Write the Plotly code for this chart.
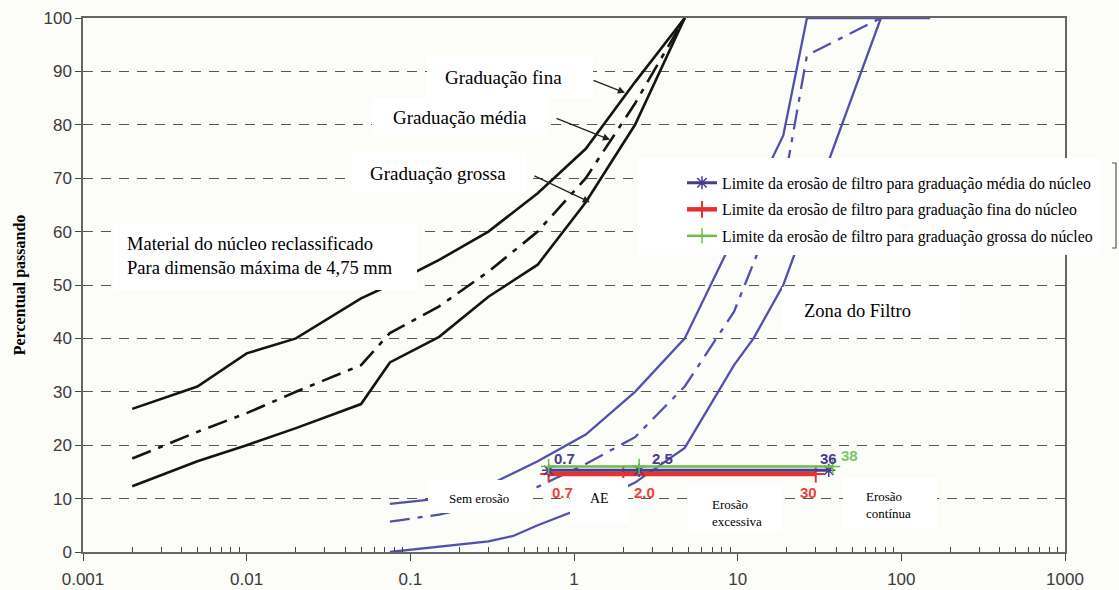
import numpy as np
import plotly.graph_objects as go

# ---------------- data ----------------
core_sizes = [0.002, 0.005, 0.01, 0.02, 0.05, 0.075, 0.15, 0.3, 0.6, 1.18, 2.36, 4.75]
core_fina = [26.8, 31.0, 37.2, 40.0, 47.5, 50.0, 54.7, 60.0, 67.2, 75.5, 88.0, 100.0]
core_media = [17.5, 22.5, 26.0, 30.0, 35.0, 41.0, 46.0, 52.5, 60.0, 70.0, 84.0, 100.0]
core_grossa = [12.3, 17.0, 20.0, 23.2, 27.7, 35.5, 40.3, 47.8, 53.8, 65.5, 80.0, 100.0]

filt_fina_sizes = [0.075, 0.15, 0.3, 0.6, 1.18, 2.36, 4.75, 9.5, 19.0, 26.5, 150.0]
filt_fina = [9.0, 10.0, 12.5, 17.0, 22.0, 30.0, 40.0, 59.0, 78.0, 100.0, 100.0]
filt_media_sizes = [0.075, 0.15, 0.3, 0.6, 1.18, 2.36, 4.75, 9.5, 19.0, 26.5, 75.0]
filt_media = [5.7, 7.0, 9.0, 12.2, 16.5, 21.5, 31.0, 45.0, 68.0, 93.0, 100.0]
filt_grossa_sizes = [0.075, 0.15, 0.3, 0.425, 0.6, 1.18, 2.36, 4.75, 9.5, 12.5, 19.0, 75.0]
filt_grossa = [0.0, 1.0, 2.0, 3.0, 5.0, 8.5, 13.0, 19.5, 35.0, 40.0, 50.0, 100.0]

lim_media_d = [0.7, 2.5, 36]
lim_fina_d = [0.7, 2.0, 30]
lim_grossa_d = [0.7, 2.5, 38]
lim_media_p = 15.3
lim_fina_p = 14.6
lim_grossa_p = 16.0

lim_media_labels = ["0.7", "2.5", "36"]
lim_fina_labels = ["0.7", "2.0", "30"]
lim_grossa_labels = ["", "", "38"]

x_tick_vals = [0.001, 0.01, 0.1, 1, 10, 100, 1000]
x_tick_text = ["0.001", "0.01", "0.1", "1", "10", "100", "1000"]
y_tick_vals = list(range(0, 101, 10))

legend_names = [
    "Limite da erosão de filtro para graduação média do núcleo",
    "Limite da erosão de filtro para graduação fina do núcleo",
    "Limite da erosão de filtro para graduação grossa do núcleo",
]

# ---------------- layout helpers ----------------
W, H = 1119, 590
ML, MR, MT, MB = 83, 54, 18, 38
PW, PH = W - ML - MR, H - MT - MB


def pxx(x):
    return (x - ML) / PW


def pxy(y):
    return (H - MB - y) / PH


BLACK = "#141414"
BLUE = "#5250ad"
PURPLE = "#4a3b8e"
RED = "#e5322d"
GREEN = "#68be4a"
SERIF = "Liberation Serif"
SANS = "Liberation Sans"

fig = go.Figure()

# core material curves
fig.add_trace(go.Scatter(x=core_sizes, y=core_fina, mode="lines", showlegend=False,
                         line=dict(color=BLACK, width=2.6), cliponaxis=False))
fig.add_trace(go.Scatter(x=core_sizes, y=core_media, mode="lines", showlegend=False,
                         line=dict(color=BLACK, width=2.6, dash="20px,8px,5px,8px"), cliponaxis=False))
fig.add_trace(go.Scatter(x=core_sizes, y=core_grossa, mode="lines", showlegend=False,
                         line=dict(color=BLACK, width=2.6), cliponaxis=False))

# filter zone curves
fig.add_trace(go.Scatter(x=filt_fina_sizes, y=filt_fina, mode="lines", showlegend=False,
                         line=dict(color=BLUE, width=2.3), cliponaxis=False))
fig.add_trace(go.Scatter(x=filt_media_sizes, y=filt_media, mode="lines", showlegend=False,
                         line=dict(color=BLUE, width=2.3, dash="20px,8px,5px,8px"), cliponaxis=False))
fig.add_trace(go.Scatter(x=filt_grossa_sizes, y=filt_grossa, mode="lines", showlegend=False,
                         line=dict(color=BLUE, width=2.3), cliponaxis=False))

# erosion limit lines
fig.add_trace(go.Scatter(x=lim_fina_d, y=[lim_fina_p] * len(lim_fina_d), mode="lines+markers",
                         name=legend_names[1], legendrank=2, legendgroup="fina",
                         line=dict(color=RED, width=4.5),
                         marker=dict(symbol="cross-thin-open", size=12, color=RED,
                                     line=dict(color=RED, width=2))))
fig.add_trace(go.Scatter(x=lim_media_d, y=[lim_media_p] * len(lim_media_d), mode="lines+markers",
                         name=legend_names[0], legendrank=1, legendgroup="media",
                         line=dict(color=PURPLE, width=3),
                         marker=dict(symbol="asterisk-open", size=11, color=PURPLE,
                                     line=dict(color=PURPLE, width=1.5))))
fig.add_trace(go.Scatter(x=lim_grossa_d, y=[lim_grossa_p] * len(lim_grossa_d), mode="lines+markers",
                         name=legend_names[2], legendrank=3, legendgroup="grossa",
                         line=dict(color=GREEN, width=2.5),
                         marker=dict(symbol="cross-thin-open", size=11, color=GREEN,
                                     line=dict(color=GREEN, width=1.5))))

# white label boxes (pixel boxes converted to paper coords)
boxes = [
    (427, 55, 593, 98),     # Graduação fina
    (372, 98, 548, 135),    # Graduação média
    (352, 152, 527, 193),   # Graduação grossa
    (113, 223, 417, 290),   # Material do núcleo
    (638, 158, 1100, 255),  # legend
    (782, 287, 960, 333),   # Zona do Filtro
    (428, 480, 530, 513),   # Sem erosão
    (570, 478, 628, 523),   # AE
    (688, 485, 782, 532),   # Erosão excessiva
    (843, 478, 937, 528),   # Erosão contínua
]
shapes = []
for (x0, y0, x1, y1) in boxes:
    shapes.append(dict(type="rect", xref="paper", yref="paper", layer="above",
                       x0=pxx(x0), x1=pxx(x1), y0=pxy(y1), y1=pxy(y0),
                       fillcolor="white", line=dict(width=0)))
# bracket at right of legend
shapes.append(dict(type="path", xref="paper", yref="paper", layer="above",
                   path="M %f,%f L %f,%f L %f,%f L %f,%f" % (pxx(1112), pxy(163), pxx(1116), pxy(163),
                                                             pxx(1116), pxy(248), pxx(1112), pxy(248)),
                   line=dict(color="#555", width=1.2)))

annotations = []


def txt(text, x, y, size, xanchor="center", font=SERIF, color="black", align="center"):
    annotations.append(dict(text=text, xref="paper", yref="paper", x=pxx(x), y=pxy(y),
                            xanchor=xanchor, yanchor="middle", showarrow=False, align=align,
                            font=dict(family=font, size=size, color=color)))


txt("Graduação fina", 503, 77, 19)
txt("Graduação média", 460, 117, 19)
txt("Graduação grossa", 438, 173, 19)
txt("Material do núcleo reclassificado<br>Para dimensão máxima de 4,75 mm", 125, 256, 18.5,
    xanchor="left", align="left")
txt("Zona do Filtro", 857, 311, 18.5)
txt("Sem erosão", 479, 498, 13)
txt("AE", 599, 498, 14)
txt("Erosão<br>excessiva", 710, 513, 13, xanchor="left", align="left")
txt("Erosão<br>contínua", 864, 505, 13, xanchor="left", align="left")

# arrows pointing at core curves (x in log10 for log axis)
arrows = [
    (np.log10(2.05), 86.0, -33, -13),
    (np.log10(1.66), 77.2, -55, -22),
    (np.log10(1.25), 65.5, -57, -27),
]
for (ax_, ay_, dx, dy) in arrows:
    annotations.append(dict(x=ax_, y=ay_, xref="x", yref="y", ax=dx, ay=dy, text="",
                            showarrow=True, arrowhead=2, arrowsize=1.1, arrowwidth=1.3,
                            arrowcolor="#222"))


# value labels on limit lines
def vlabels(xs, yv, labels, color, shifts, yshift):
    for xv, lab, sh in zip(xs, labels, shifts):
        if not lab:
            continue
        annotations.append(dict(x=np.log10(xv), y=yv, xref="x", yref="y", text="<b>%s</b>" % lab,
                                showarrow=False, xanchor="left", yanchor="middle",
                                xshift=sh, yshift=yshift,
                                font=dict(family=SANS, size=15, color=color)))


vlabels(lim_media_d, lim_media_p, lim_media_labels, PURPLE, [3, 11, -11], 12)
vlabels(lim_fina_d, lim_fina_p, lim_fina_labels, "#e8443c", [1, 9, -18], -18)
vlabels(lim_grossa_d, lim_grossa_p, lim_grossa_labels, "#7cc46a", [0, 0, 6], 11)

minor_vals = [m * 10.0 ** k for k in range(-3, 3) for m in range(2, 10)]

fig.update_layout(
    width=W, height=H,
    margin=dict(l=ML, r=MR, t=MT, b=MB, autoexpand=False),
    paper_bgcolor="#fcfcf9",
    plot_bgcolor="#fcfcf9",
    shapes=shapes,
    annotations=annotations,
    showlegend=True,
    legend=dict(x=pxx(682), y=pxy(166), xanchor="left", yanchor="top",
                bgcolor="white", borderwidth=0,
                font=dict(family=SERIF, size=15.8, color="black"),
                tracegroupgap=3, itemwidth=30),
    xaxis=dict(type="log", range=[-3, 3], tickmode="array", tickvals=x_tick_vals,
               ticktext=x_tick_text, ticks="outside", ticklen=7, tickwidth=1.3,
               tickcolor="#444", showgrid=False, zeroline=False, automargin=False,
               showline=True, linecolor="#666", linewidth=1.5, mirror=True,
               ticklabelstandoff=4,
               tickfont=dict(family=SANS, size=17, color="#3a3a3a"),
               minor=dict(tickmode="array", tickvals=minor_vals, ticks="inside",
                          ticklen=5, tickwidth=1.2, tickcolor="#444", showgrid=False)),
    yaxis=dict(range=[0, 100], tickmode="array", tickvals=y_tick_vals,
               ticks="outside", ticklen=6, tickwidth=1.3, tickcolor="#444",
               showgrid=True, gridcolor="#555", gridwidth=1.2, griddash="10px,8px",
               zeroline=False, showline=True, linecolor="#666", linewidth=1.5, mirror=True,
               automargin=False,
               tickfont=dict(family=SANS, size=17, color="#3a3a3a"),
               title=dict(text="<b>Percentual passando</b>", standoff=14,
                          font=dict(family=SERIF, size=16, color="black"))),
)

fig.write_html("out.html")
